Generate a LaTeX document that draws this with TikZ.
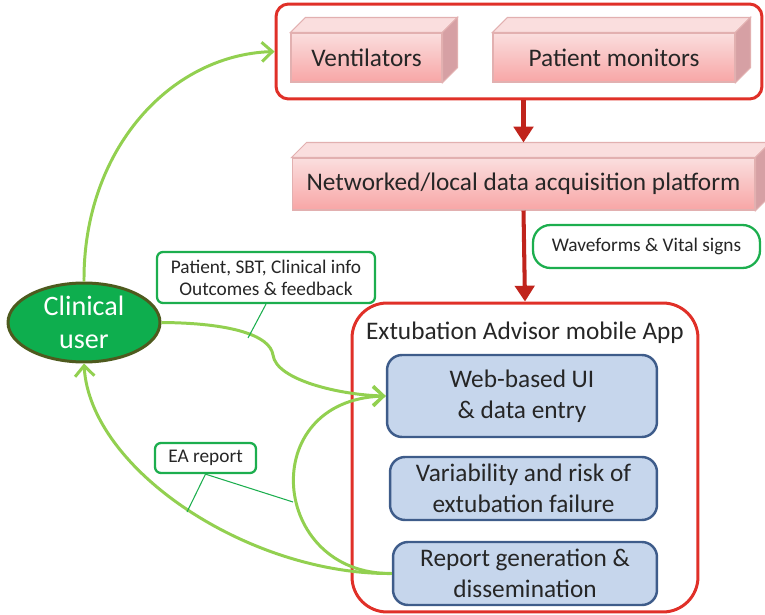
\documentclass[tikz,border=0pt]{standalone}
\usepackage{fontspec}
\setmainfont{Carlito}
\usetikzlibrary{arrows.meta,calc,shapes.geometric}

\definecolor{framered}{RGB}{224,48,40}
\definecolor{arrowred}{RGB}{192,36,28}
\definecolor{pinkedge}{RGB}{226,176,176}
\definecolor{pinktop}{RGB}{250,222,222}
\definecolor{pinklow}{RGB}{248,166,166}
\definecolor{pinkside}{RGB}{214,160,164}
\definecolor{appblue}{RGB}{198,214,236}
\definecolor{appedge}{RGB}{62,92,138}
\definecolor{leafgreen}{RGB}{146,208,80}
\definecolor{tagGreen}{RGB}{28,174,78}
\definecolor{userfill}{RGB}{14,174,78}
\definecolor{useredge}{RGB}{78,90,30}

\begin{document}
\begin{tikzpicture}[
  x=0.02cm, y=-0.02cm,
  every node/.style={align=center, text=black!85},
  frame/.style={draw=framered, line width=1.7pt},
  device/.style={draw=pinkedge, line width=0.6pt, top color=pinktop, bottom color=pinklow,
    minimum height=0.98cm, font=\fontsize{14.4}{17}\selectfont},
  module/.style={draw=appedge, line width=1.4pt, fill=appblue, rounded corners=0.3cm,
    font=\fontsize{14.4}{17.5}\selectfont},
  tag/.style={draw=tagGreen, line width=1.3pt, rounded corners=0.12cm, fill=white,
    font=\fontsize{11}{12.5}\selectfont},
  feed/.style={draw=leafgreen, line width=1.7pt, -{Straight Barb[length=6pt,width=11pt]}},
  flow/.style={draw=arrowred, line width=2.3pt, -{Triangle[length=9pt,width=11pt]}},
  leader/.style={draw=tagGreen, line width=0.6pt}
]
\useasboundingbox (0,0) rectangle (765,615);

% data sources
\node (devices) [frame, rounded corners=0.25cm, minimum width=9.72cm, minimum height=1.9cm] at (519,51.5) {};
\node (vent) [device, minimum width=3.02cm] at (366.5,57.5) {Ventilators};
\node (mon) [device, minimum width=4.84cm] at (614,57.5) {Patient monitors};
\node (net) [device, minimum width=9.26cm, minimum height=1.04cm] at (523.5,184) {Networked/local data acquisition platform};
\foreach \n in {vent,mon,net} {
  \filldraw[draw=pinkedge, fill=pinktop, line width=0.6pt] (\n.north west) -- ($(\n.north west)+(15,-15)$)
    -- ($(\n.north east)+(15,-15)$) -- (\n.north east) -- cycle;
  \filldraw[draw=pinkedge, fill=pinkside, line width=0.6pt] (\n.north east) -- ($(\n.north east)+(15,-15)$)
    -- ($(\n.south east)+(15,-15)$) -- (\n.south east) -- cycle;
}

% the app
\node (app) [frame, rounded corners=0.7cm, minimum width=6.92cm, minimum height=6.18cm] at (525,457.5) {};
\node (apptitle) [font=\fontsize{14.4}{17}\selectfont] at (525,333) {Extubation Advisor mobile App};
\node (web) [module, minimum width=5.4cm, minimum height=1.64cm] at (522,396) {Web-based UI\\ \& data entry};
\node (risk) [module, minimum width=5.34cm, minimum height=1.26cm] at (523.5,488.5) {Variability and risk of\\ extubation failure};
\node (report) [module, minimum width=5.28cm, minimum height=1.26cm] at (525,573.5) {Report generation \&\\ dissemination};

% user
\node (user) [ellipse, draw=useredge, line width=1.7pt, fill=userfill, text=white,
  minimum width=3.04cm, minimum height=1.58cm, inner sep=0pt,
  font=\fontsize{16}{19}\selectfont] at (84,322.5) {Clinical\\ user};

\draw[flow] (devices.south -| net) -- ([yshift=0.3cm]net.north);
\draw[flow] (net.south) -- (app.north);

\draw[feed] (user.north) .. controls (83,150) and (170,55) .. (devices.west);
\draw[feed] (user.east) .. controls (230,323) and (270,335) .. (273,355)
  .. controls (276,380) and (340,395) .. (web.west);
\draw[feed] (report.west) .. controls (270,575) and (255,400) .. (web.west);
\draw[feed] (report.west) .. controls (250,575) and (90,470) .. (user.south);

% labels
\node (wave) [tag, rounded corners=0.35cm, minimum width=4.54cm, minimum height=0.86cm] at (646.5,246.5) {Waveforms \& Vital signs};
\node (input) [tag, minimum width=4.36cm, minimum height=1.02cm] at (266,277.5) {Patient, SBT, Clinical info\\ Outcomes \& feedback};
\node (earep) [tag, minimum width=2.02cm, minimum height=0.6cm] at (205.5,458) {EA report};

\coordinate (onin) at (248,338);
\coordinate (onback) at (187,512);
\coordinate (onloop) at (293,502);
\draw[leader] (input.south) -- (onin);
\draw[leader] (earep.south) -- (onback);
\draw[leader] (earep.south) -- (onloop);
\end{tikzpicture}
\end{document}
